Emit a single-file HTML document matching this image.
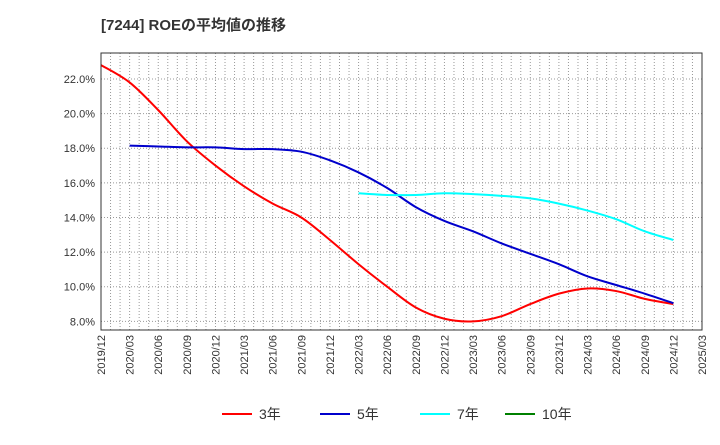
<!DOCTYPE html>
<html><head><meta charset="utf-8"><style>
body{margin:0;background:#fff;font-family:"Liberation Sans","Noto Sans CJK JP",sans-serif;}
svg text{font-family:"Liberation Sans","Noto Sans CJK JP",sans-serif;}
</style></head><body>
<svg id="c" width="720" height="440" xmlns="http://www.w3.org/2000/svg">
<text x="101" y="30" font-size="15" font-weight="bold" fill="#333">[7244]  ROEの平均値の推移</text>
<g id="grid"></g>
<g id="series"></g>
<rect x="101" y="53" width="601" height="277" fill="none" stroke="#333" stroke-width="1"/>
<g id="axes"></g>
<g id="legend"></g>
</svg>
<script>
const xLabels=["2019/12","2020/03","2020/06","2020/09","2020/12","2021/03","2021/06","2021/09","2021/12","2022/03","2022/06","2022/09","2022/12","2023/03","2023/06","2023/09","2023/12","2024/03","2024/06","2024/09","2024/12","2025/03"];
const yTicks=[8,10,12,14,16,18,20,22];
const s3=[22.8,21.8,20.2,18.4,17.0,15.8,14.8,14.0,12.7,11.3,10.0,8.8,8.15,8.0,8.3,9.0,9.6,9.9,9.75,9.3,9.0];
const s5=[null,18.15,18.1,18.05,18.05,17.95,17.95,17.8,17.3,16.6,15.7,14.6,13.8,13.2,12.5,11.9,11.3,10.6,10.1,9.6,9.05];
const s7=[null,null,null,null,null,null,null,null,null,15.4,15.3,15.3,15.4,15.35,15.25,15.1,14.8,14.4,13.9,13.2,12.7];
const s10=[];
const NS="http://www.w3.org/2000/svg";
const L=101,R=702,T=53,B=330,yMin=7.5,yMax=23.5;
const xs=i=>L+(R-L)*i/(xLabels.length-1);
const ys=v=>B-(v-yMin)/(yMax-yMin)*(B-T);
function mk(t,a,p){const e=document.createElementNS(NS,t);for(const k in a)e.setAttribute(k,a[k]);p.appendChild(e);return e;}
const grid=document.getElementById('grid'),axes=document.getElementById('axes');
for(let m=1;m<(xLabels.length-1)*3;m++){const x=L+(R-L)*m/((xLabels.length-1)*3);
 const g=mk('line',{x1:x,x2:x,y1:T,y2:B,stroke:'#999','stroke-dasharray':'1,2','stroke-width':1},grid);
 
 }
yTicks.forEach(v=>{const y=ys(v);
 const g=mk('line',{x1:L,x2:R,y1:y,y2:y,stroke:'#999','stroke-dasharray':'1,2'},grid);
 
 
 const t=mk('text',{x:L-6,y:y+4,'font-size':11,'text-anchor':'end',fill:'#333'},axes);t.textContent=v.toFixed(1)+'%';
 
 });
xLabels.forEach((s,i)=>{const x=xs(i);
 const t=mk('text',{x:0,y:0,'font-size':11,'text-anchor':'end',fill:'#333',transform:`translate(${x+4},335) rotate(-90)`},axes);t.textContent=s;
 
 });
function path(arr){const p=[];arr.forEach((v,i)=>{if(v!=null)p.push([xs(i),ys(v)]);});
 if(p.length<2)return '';let d=`M${p[0][0]},${p[0][1]}`;
 for(let i=0;i<p.length-1;i++){const p0=p[i-1]||p[i],p1=p[i],p2=p[i+1],p3=p[i+2]||p2;
  d+=`C${p1[0]+(p2[0]-p0[0])/6},${p1[1]+(p2[1]-p0[1])/6} ${p2[0]-(p3[0]-p1[0])/6},${p2[1]-(p3[1]-p1[1])/6} ${p2[0]},${p2[1]}`;}
 return d;}
const ser=document.getElementById('series');
[[s3,'#ff0000','series-3yr'],[s5,'#0000cc','series-5yr'],[s7,'#00ffff','series-7yr'],[s10,'#008000','series-10yr']].forEach(([a,c,n])=>{
 const d=path(a);if(!d)return;const e=mk('path',{d:d,fill:'none',stroke:c,'stroke-width':2},ser);
 
 });
const lg=document.getElementById('legend');
[['3年','#ff0000',222],['5年','#0000cc',320],['7年','#00ffff',420],['10年','#008000',505]].forEach(([t,c,x])=>{
 const l=mk('line',{x1:x,x2:x+30,y1:414,y2:414,stroke:c,'stroke-width':2},lg);
 
 
 const tx=mk('text',{x:x+37,y:419,'font-size':14,fill:'#333'},lg);tx.textContent=t;
 
 });
</script>
</body></html>
